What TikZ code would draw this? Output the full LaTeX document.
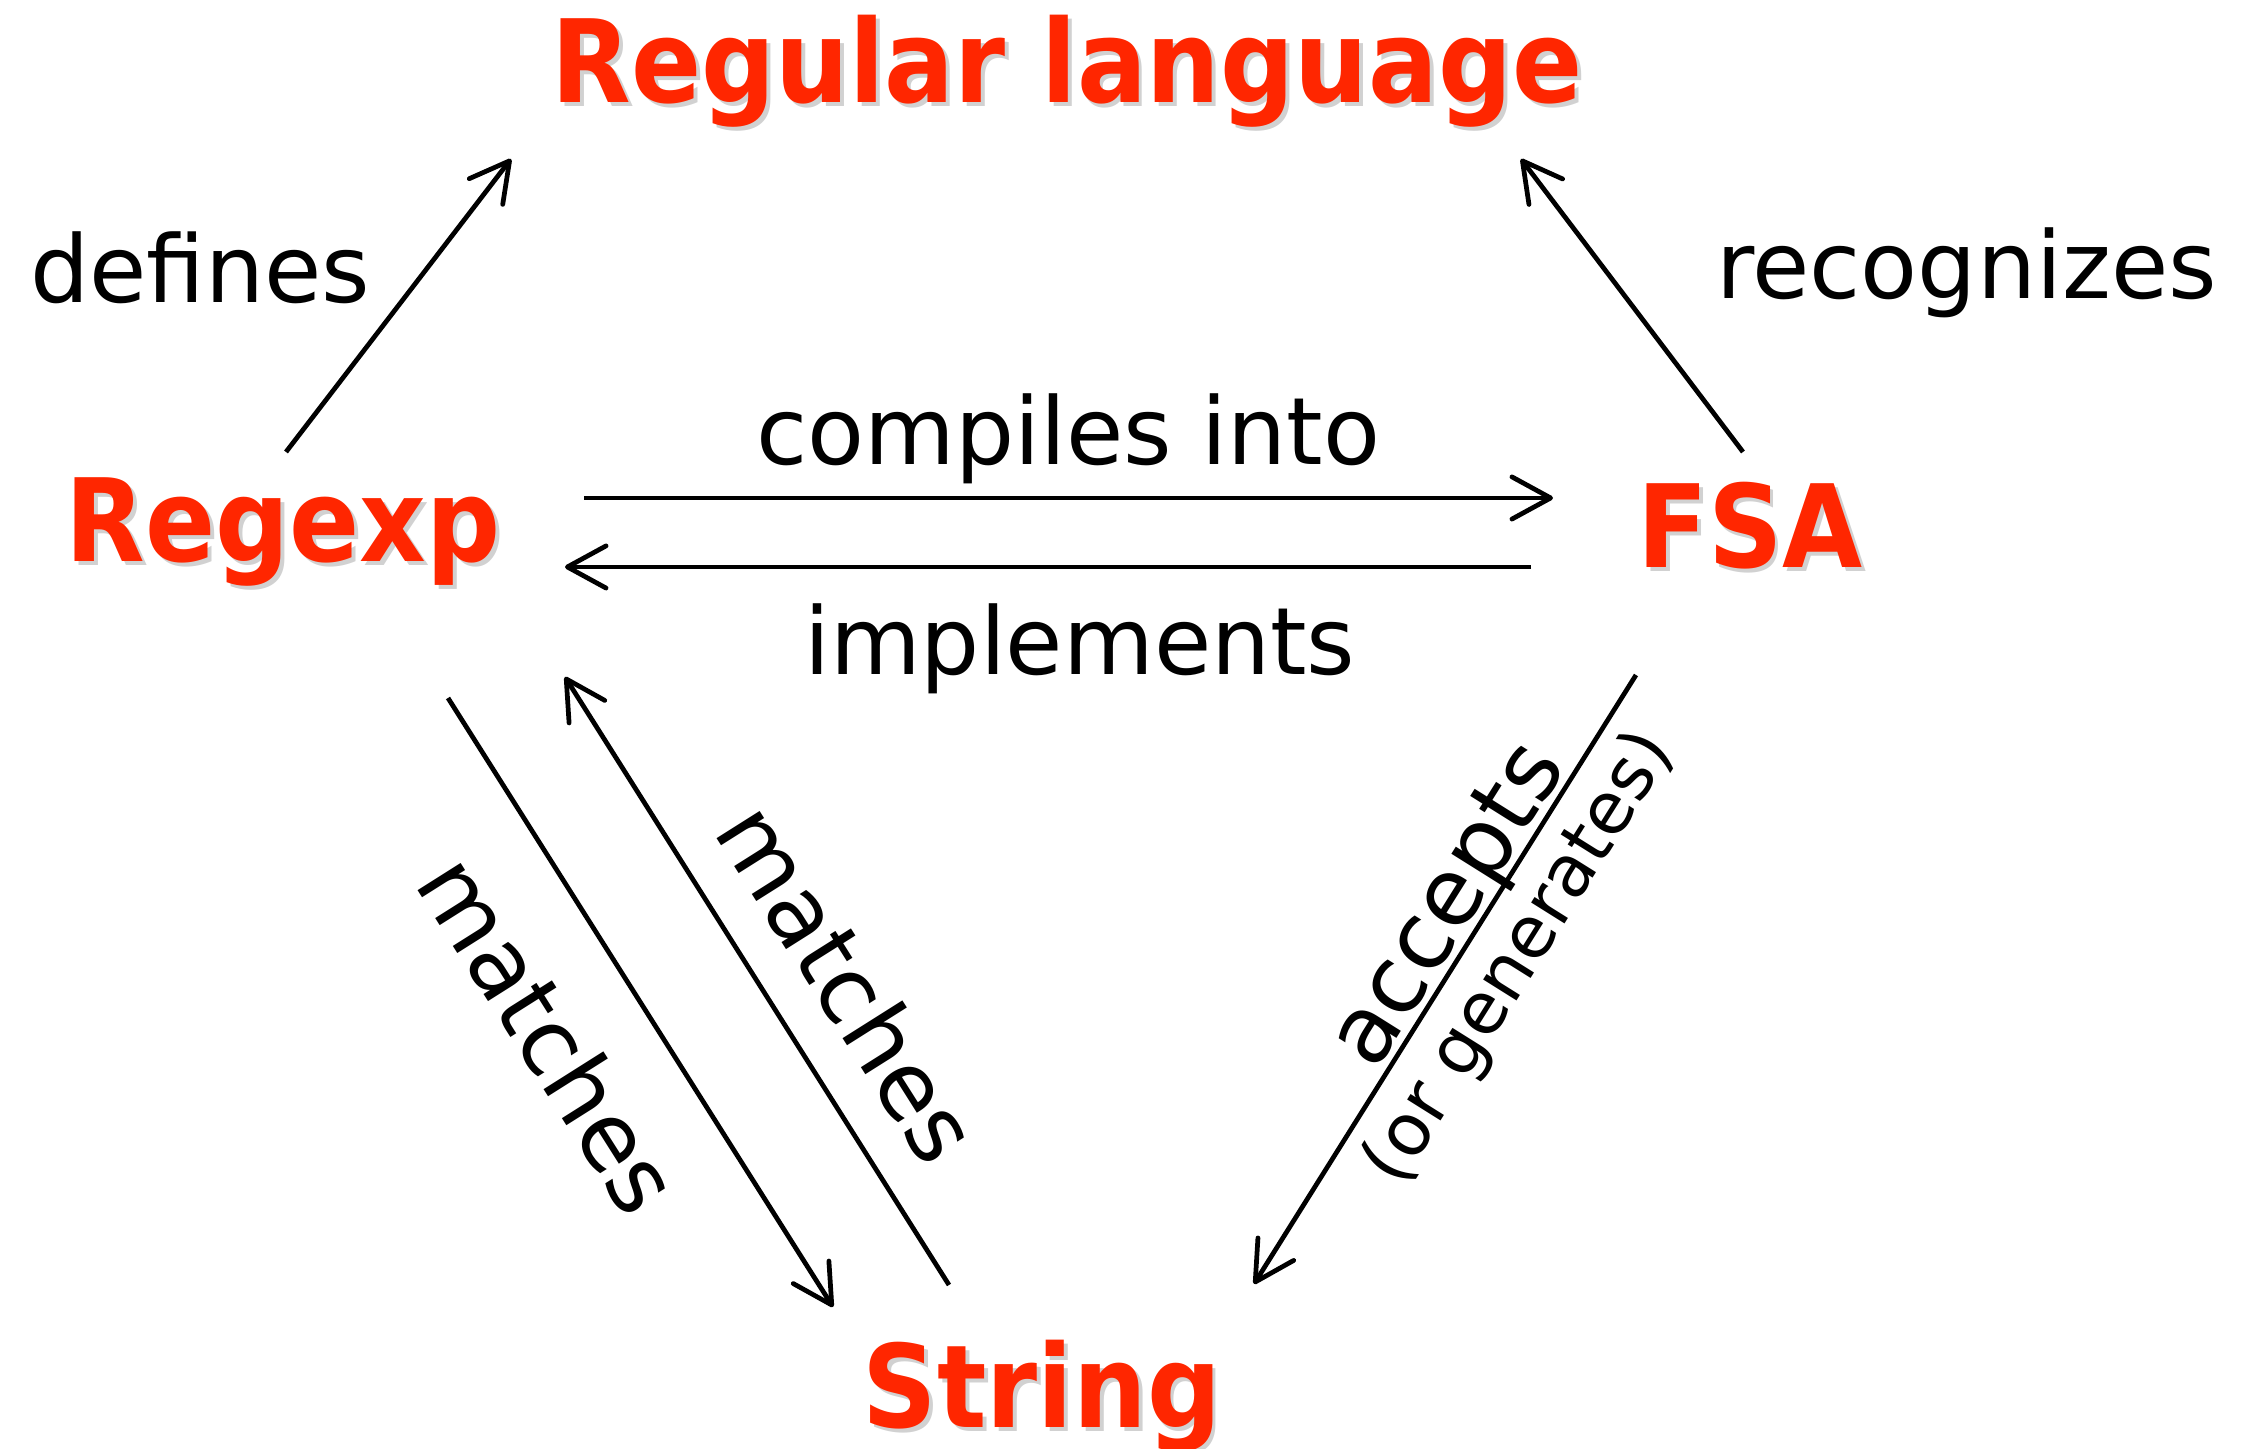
\documentclass[tikz,border=0pt]{standalone}
\usepackage{fontspec}
\setmainfont{DejaVu Sans}
\newfontfamily\headfont{DejaVu Sans}[FakeStretch=0.9]
\usetikzlibrary{calc, positioning, arrows.meta}
\definecolor{hotred}{RGB}{255,38,0}
\newcommand{\shadowed}[1]{\rlap{\hspace{1.1pt}\raisebox{-1.1pt}{\textcolor{black!18}{#1}}}#1}

\begin{document}
\begin{tikzpicture}[x=0.01cm, y=0.01cm,
  head/.style={text=hotred, font=\headfont\bfseries\fontsize{32.7}{36}\selectfont,
    inner sep=0pt, anchor=base},
  lbl/.style={font=\fontsize{26.5}{30}\selectfont, inner sep=0pt},
  small/.style={font=\fontsize{20.5}{24}\selectfont, inner sep=0pt},
  arw/.style={-{Straight Barb[length=11pt,width=12pt,round]}, line width=1.35pt},
]
\useasboundingbox (0,0) rectangle (2244,1449);

% Headings
\node[head] (lang) at (1067,1346) {\shadowed{Regular language}};
\node[head] (regexp) at (283,887) {\shadowed{Regexp}};
\node[head] (fsa) at (1750,881) {\shadowed{FSA}};
\node[head] (string) at (1042,21) {\shadowed{String}};

% Arrows to the language
\draw[arw] ($(regexp.base)+(3,110)$) -- node[lbl, pos=.63, left=0.55cm] {defines}
  ($(lang.base)+(-556,-56)$);
\draw[arw] ($(fsa.base)+(-7,116)$) -- node[lbl, pos=.61, right=1.06cm] {recognizes}
  ($(lang.base)+(454,-56)$);

% Regexp <-> FSA
\draw[arw] ($(regexp.base)+(301,64)$) -- node[lbl, above=0.12cm] {compiles into}
  ($(fsa.base)+(-197,70)$);
\draw[arw] ($(fsa.base)+(-219,1)$) -- node[lbl, pos=.467, below=0.34cm] {implements}
  ($(regexp.base)+(282,-5)$);

% Strings
\draw[arw] ($(regexp.base)+(165,-136)$) -- node[lbl, sloped, pos=.47, below=0.55cm] {matches}
  ($(string.base)+(-209,121)$);
\draw[arw] ($(string.base)+(-93,143)$) -- node[lbl, sloped, pos=.43, above=0.38cm] {matches}
  ($(regexp.base)+(282,-115)$);
\draw[arw] ($(fsa.base)+(-114,-107)$) -- node[lbl, sloped, pos=.41, above=-0.12cm] {accepts}
  node[small, sloped, pos=.42, below=0.15cm] {(or generates)}
  ($(string.base)+(212,144)$);
\end{tikzpicture}
\end{document}
